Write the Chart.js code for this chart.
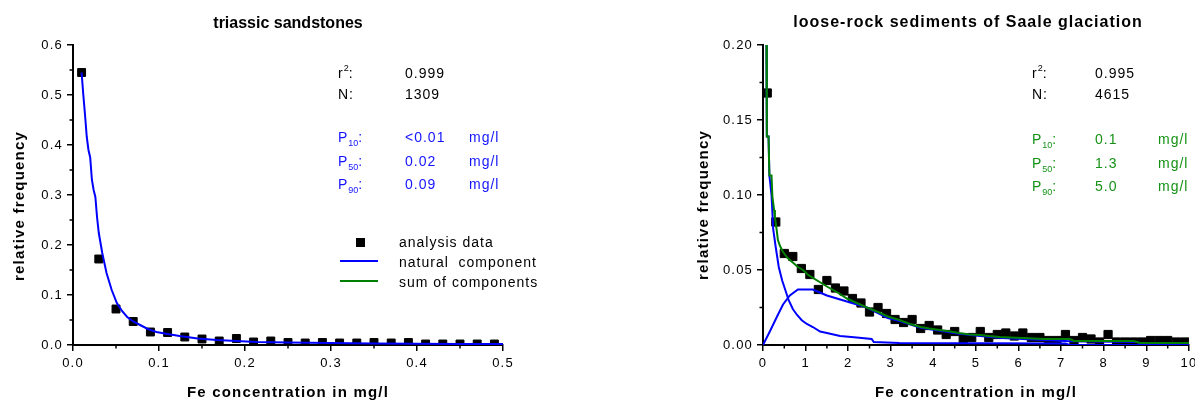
<!DOCTYPE html>
<html>
<head>
<meta charset="utf-8">
<script src="https://cdn.jsdelivr.net/npm/chart.js@4/dist/chart.umd.min.js"></script>
<style>
  body { margin: 0; width: 1195px; height: 403px; overflow: hidden; background: #fff; position: relative;
         font-family: "Liberation Sans", Arial, sans-serif; }
  .box { position: absolute; top: 0; }
  .t { position: absolute; white-space: nowrap; font-size: 14px; letter-spacing: 1px; line-height: 16px; color: #000; }
  .ttl { position: absolute; white-space: nowrap; font-weight: bold; font-size: 16px;
         line-height: 18px; transform: translateX(-50%); color: #000; }
  .ytl { position: absolute; white-space: nowrap; font-weight: bold; font-size: 15px; letter-spacing: 1.2px;
         line-height: 18px; transform: translate(-50%, -50%) rotate(-90deg); color: #000; }
  .t sub { font-size: 9px; vertical-align: -4px; line-height: 0; letter-spacing: 0; }
  .t sup { font-size: 9px; vertical-align: 7px; line-height: 0; letter-spacing: 0; }
  .blue { color: #1414ff; }
  .green { color: #159215; }
  .sq { position: absolute; width: 9px; height: 9px; background: #000; }
  .ln { position: absolute; height: 2px; }
</style>
</head>
<body>

<div class="box" style="left:0px"><canvas id="chart1" width="530" height="403"></canvas></div>
<div class="box" style="left:680px"><canvas id="chart2" width="530" height="403"></canvas></div>

<div class="ttl" style="left:288px;top:14px">triassic sandstones</div>
<div class="ttl" style="left:968px;top:13px;letter-spacing:1px">loose-rock sediments of Saale glaciation</div>
<div class="ytl" style="left:19px;top:206px">relative frequency</div>
<div class="ytl" style="left:703px;top:205px">relative frequency</div>

<!-- left notes -->
<div class="t" style="left:338px;top:65px">r<sup>2</sup>:</div>
<div class="t" style="left:405px;top:65px">0.999</div>
<div class="t" style="left:338px;top:86px">N:</div>
<div class="t" style="left:405px;top:86px">1309</div>
<div class="t blue" style="left:338px;top:129px">P<sub>10</sub>:</div>
<div class="t blue" style="left:405px;top:129px">&lt;0.01</div>
<div class="t blue" style="left:469px;top:129px">mg/l</div>
<div class="t blue" style="left:338px;top:153px">P<sub>50</sub>:</div>
<div class="t blue" style="left:405px;top:153px">0.02</div>
<div class="t blue" style="left:469px;top:153px">mg/l</div>
<div class="t blue" style="left:338px;top:176px">P<sub>90</sub>:</div>
<div class="t blue" style="left:405px;top:176px">0.09</div>
<div class="t blue" style="left:469px;top:176px">mg/l</div>

<div class="sq" style="left:356px;top:238px"></div>
<div class="t" style="left:399px;top:234px">analysis data</div>
<div class="ln" style="left:340px;top:260px;width:38px;background:#0000ff"></div>
<div class="t" style="left:399px;top:254px">natural&nbsp; component</div>
<div class="ln" style="left:340px;top:280px;width:38px;background:#008000"></div>
<div class="t" style="left:399px;top:274px">sum of components</div>

<!-- right notes -->
<div class="t" style="left:1032px;top:65px">r<sup>2</sup>:</div>
<div class="t" style="left:1095px;top:65px">0.995</div>
<div class="t" style="left:1032px;top:86px">N:</div>
<div class="t" style="left:1095px;top:86px">4615</div>
<div class="t green" style="left:1032px;top:131px">P<sub>10</sub>:</div>
<div class="t green" style="left:1095px;top:131px">0.1</div>
<div class="t green" style="left:1158px;top:131px">mg/l</div>
<div class="t green" style="left:1032px;top:155px">P<sub>50</sub>:</div>
<div class="t green" style="left:1095px;top:155px">1.3</div>
<div class="t green" style="left:1158px;top:155px">mg/l</div>
<div class="t green" style="left:1032px;top:178px">P<sub>90</sub>:</div>
<div class="t green" style="left:1095px;top:178px">5.0</div>
<div class="t green" style="left:1158px;top:178px">mg/l</div>

<script>
// triassic sandstones
var triasX = [0.01, 0.03, 0.05, 0.07, 0.09, 0.11, 0.13, 0.15, 0.17, 0.19, 0.21, 0.23, 0.25,
              0.27, 0.29, 0.31, 0.33, 0.35, 0.37, 0.39, 0.41, 0.43, 0.45, 0.47, 0.49]
var triasY = [0.545, 0.172, 0.072, 0.047, 0.026, 0.025, 0.016, 0.012, 0.008, 0.013, 0.006, 0.008, 0.005,
              0.004, 0.005, 0.004, 0.004, 0.005, 0.004, 0.005, 0.002, 0.002, 0.002, 0.002, 0.002]
var triasNatX = [0.01, 0.012, 0.014, 0.016, 0.018, 0.02, 0.022, 0.024, 0.026, 0.028, 0.03, 0.034, 0.039,
                 0.045, 0.051, 0.057, 0.063, 0.07, 0.078, 0.087, 0.097, 0.11, 0.124, 0.145, 0.167, 0.19,
                 0.214, 0.25, 0.3, 0.35, 0.4, 0.45, 0.5]
var triasNatY = [0.545, 0.5, 0.46, 0.416, 0.39, 0.375, 0.33, 0.31, 0.296, 0.255, 0.224, 0.184, 0.144,
                 0.11, 0.084, 0.068, 0.056, 0.047, 0.04, 0.032, 0.026, 0.022, 0.018, 0.013, 0.01, 0.008,
                 0.006, 0.005, 0.004, 0.003, 0.0025, 0.002, 0.002]
var triasXTicks = [0, 0.1, 0.2, 0.3, 0.4, 0.5]
var triasXLabels = ['0.0', '0.1', '0.2', '0.3', '0.4', '0.5']
var triasYTicks = [0, 0.1, 0.2, 0.3, 0.4, 0.5, 0.6]
var triasYLabels = ['0.0', '0.1', '0.2', '0.3', '0.4', '0.5', '0.6']

// loose-rock sediments
var saaleX = [0.1, 0.3, 0.5, 0.7, 0.9, 1.1, 1.3, 1.5, 1.7, 1.9, 2.1, 2.3, 2.5, 2.7, 2.9, 3.1, 3.3,
              3.5, 3.7, 3.9, 4.1, 4.3, 4.5, 4.7, 4.9, 5.1, 5.3, 5.5, 5.7, 5.9, 6.1, 6.3, 6.5, 6.7,
              6.9, 7.1, 7.3, 7.5, 7.7, 7.9, 8.1, 8.3, 8.5, 8.7, 8.9, 9.1, 9.3, 9.5, 9.7, 9.9]
var saaleY = [0.168, 0.082, 0.061, 0.059, 0.051, 0.047, 0.037, 0.043, 0.038, 0.036, 0.031, 0.028, 0.022,
              0.025, 0.021, 0.017, 0.015, 0.017, 0.011, 0.013, 0.010, 0.007, 0.009, 0.004, 0.005, 0.009,
              0.005, 0.007, 0.008, 0.006, 0.008, 0.005, 0.005, 0.003, 0.003, 0.007, 0.003, 0.005, 0.004,
              0.002, 0.007, 0.002, 0.002, 0.002, 0.002, 0.003, 0.003, 0.003, 0.002, 0.002]
var saaleSumX = [0, 0.05, 0.08, 0.09, 0.13, 0.15, 0.2, 0.22, 0.26, 0.28, 0.32, 0.35, 0.4, 0.47, 0.58,
                 0.7, 0.82, 0.94, 1.05, 1.17, 1.33, 1.5, 1.75, 1.97, 2.2, 2.44, 2.7, 2.93, 3.2, 3.45,
                 3.7, 3.9, 4.15, 4.4, 4.6, 4.85, 5.1, 5.3, 5.56, 5.8, 6.1, 6.6, 7.2, 7.3, 8.7, 8.85, 10]
var saaleSumY = [0.25, 0.25, 0.2, 0.139, 0.139, 0.113, 0.113, 0.099, 0.09, 0.085, 0.077, 0.07, 0.066,
                 0.062, 0.058, 0.055, 0.052, 0.05, 0.047, 0.0447, 0.042, 0.039, 0.035, 0.031, 0.028,
                 0.025, 0.022, 0.019, 0.0167, 0.014, 0.012, 0.011, 0.01, 0.009, 0.008, 0.007, 0.0067,
                 0.006, 0.0053, 0.005, 0.0047, 0.004, 0.004, 0.0027, 0.0027, 0.0013, 0.0013]
var saaleFastX = [0, 0.05, 0.08, 0.09, 0.13, 0.15, 0.2, 0.24, 0.3, 0.37, 0.45, 0.52, 0.6, 0.7, 0.8,
                  0.91, 1.03, 1.17, 1.34, 1.5, 1.81, 2.2, 2.55, 2.6, 3.2, 7.1, 7.2, 10]
var saaleFastY = [0.25, 0.25, 0.2, 0.139, 0.139, 0.113, 0.1, 0.077, 0.065, 0.052, 0.043, 0.037, 0.03,
                  0.024, 0.02, 0.0165, 0.014, 0.012, 0.009, 0.008, 0.006, 0.005, 0.004, 0.002, 0.0013,
                  0.001, 0, 0]
var saaleSlowX = [0, 0.16, 0.33, 0.47, 0.63, 0.82, 1.17, 1.5, 1.97, 2.44, 2.93, 3.2, 3.7, 4.15, 4.6,
                  5.1, 5.6, 6.1, 7.2, 8.8, 8.85, 10]
var saaleSlowY = [0, 0.009, 0.019, 0.027, 0.033, 0.037, 0.037, 0.033, 0.029, 0.025, 0.018, 0.016,
                  0.0115, 0.0095, 0.0075, 0.006, 0.0047, 0.004, 0.0025, 0.002, 0.0005, 0.0005]
var saaleXTicks = [0, 1, 2, 3, 4, 5, 6, 7, 8, 9, 10]
var saaleXLabels = ['0', '1', '2', '3', '4', '5', '6', '7', '8', '9', '10']
var saaleYTicks = [0, 0.05, 0.1, 0.15, 0.2]
var saaleYLabels = ['0.00', '0.05', '0.10', '0.15', '0.20']

function pontos(xs, ys) {
  return xs.map(function (x, i) { return { x: x, y: ys[i] } })
}

Chart.defaults.font.family = '"Liberation Sans", Arial, sans-serif'
Chart.defaults.color = '#000'

// spaced digits like the original plot
const espaco = {
  id: 'espaco',
  beforeDraw: function (chart) { chart.ctx.letterSpacing = '1.2px' }
}

// short ticks half way between the big ones
const minorTicks = {
  id: 'minorTicks',
  afterDraw: function (chart) {
    var ctx = chart.ctx
    var sx = chart.scales.x
    var sy = chart.scales.y
    ctx.save()
    ctx.strokeStyle = '#000'
    ctx.lineWidth = 1.5
    ctx.beginPath()
    for (var i = 0; i < sx.ticks.length - 1; i++) {
      var px = sx.getPixelForValue((sx.ticks[i].value + sx.ticks[i + 1].value) / 2)
      ctx.moveTo(px, sy.bottom)
      ctx.lineTo(px, sy.bottom + 3.5)
    }
    for (var j = 0; j < sy.ticks.length - 1; j++) {
      var py = sy.getPixelForValue((sy.ticks[j].value + sy.ticks[j + 1].value) / 2)
      ctx.moveTo(sx.left, py)
      ctx.lineTo(sx.left - 3.5, py)
    }
    ctx.stroke()
    ctx.restore()
  }
}

function eixos(xmin, xmax, xTicks, xLabels, ymin, ymax, yTicks, yLabels, yWidth) {
  return {
    x: {
      type: 'linear', min: xmin, max: xmax,
      afterFit: function (scale) { scale.height = 58 },
      afterBuildTicks: function (scale) { scale.ticks = xTicks.map(function (v) { return { value: v } }) },
      border: { color: '#000', width: 2 },
      grid: { drawOnChartArea: false, color: '#000', lineWidth: 1.5, tickLength: 6 },
      ticks: { color: '#000', font: { size: 13 }, padding: 5, maxRotation: 0,
               callback: function (v, i) { return xLabels[i] } },
      title: { display: true, text: 'Fe concentration in mg/l', color: '#000',
               font: { size: 15, weight: 'bold' }, padding: { top: 0, bottom: 1 } }
    },
    y: {
      type: 'linear', min: ymin, max: ymax,
      afterFit: function (scale) { scale.width = yWidth },
      afterBuildTicks: function (scale) { scale.ticks = yTicks.map(function (v) { return { value: v } }) },
      border: { color: '#000', width: 2 },
      grid: { drawOnChartArea: false, color: '#000', lineWidth: 1.5, tickLength: 6 },
      ticks: { color: '#000', font: { size: 13 }, padding: 4,
               callback: function (v, i) { return yLabels[i] } }
    }
  }
}

// inicio grafico 1
const config1 = {
  type: 'scatter',
  data: {
    datasets: [{
      label: 'natural component',
      data: pontos(triasNatX, triasNatY),
      showLine: true,
      borderColor: '#0000ff',
      borderWidth: 2,
      pointRadius: 0,
      tension: 0,
      order: 1
    },
    {
      label: 'analysis data',
      data: pontos(triasX, triasY),
      pointStyle: 'rect',
      pointRadius: 5.6,
      backgroundColor: '#000',
      borderColor: '#000',
      borderWidth: 1,
      order: 2
    }]
  },
  options: {
    responsive: false,
    animation: false,
    layout: { padding: { top: 45, right: 27, bottom: 0, left: 0 } },
    plugins: { legend: { display: false }, tooltip: { enabled: false } },
    scales: eixos(0, 0.5, triasXTicks, triasXLabels, 0, 0.6, triasYTicks, triasYLabels, 73)
  },
  plugins: [espaco, minorTicks]
}
const myChart1 = new Chart(document.getElementById('chart1'), config1)
// fim grafico 1

// inicio grafico 2
const config2 = {
  type: 'scatter',
  data: {
    datasets: [{
      label: 'sum of components',
      data: pontos(saaleSumX, saaleSumY),
      showLine: true,
      borderColor: '#008000',
      borderWidth: 2,
      pointRadius: 0,
      tension: 0,
      order: 1
    },
    {
      label: 'natural component',
      data: pontos(saaleSlowX, saaleSlowY),
      showLine: true,
      borderColor: '#0000ff',
      borderWidth: 2,
      pointRadius: 0,
      tension: 0,
      order: 2
    },
    {
      label: 'anthropogenic component',
      data: pontos(saaleFastX, saaleFastY),
      showLine: true,
      borderColor: '#0000ff',
      borderWidth: 2,
      pointRadius: 0,
      tension: 0,
      order: 3
    },
    {
      label: 'analysis data',
      data: pontos(saaleX, saaleY),
      pointStyle: 'rect',
      pointRadius: 5.8,
      backgroundColor: '#000',
      borderColor: '#000',
      borderWidth: 1,
      order: 4
    }]
  },
  options: {
    responsive: false,
    animation: false,
    layout: { padding: { top: 45, right: 21, bottom: 0, left: 0 } },
    plugins: { legend: { display: false }, tooltip: { enabled: false } },
    scales: eixos(0, 10, saaleXTicks, saaleXLabels, 0, 0.2, saaleYTicks, saaleYLabels, 83)
  },
  plugins: [espaco, minorTicks]
}
const myChart2 = new Chart(document.getElementById('chart2'), config2)
// fim grafico 2
</script>
</body>
</html>
